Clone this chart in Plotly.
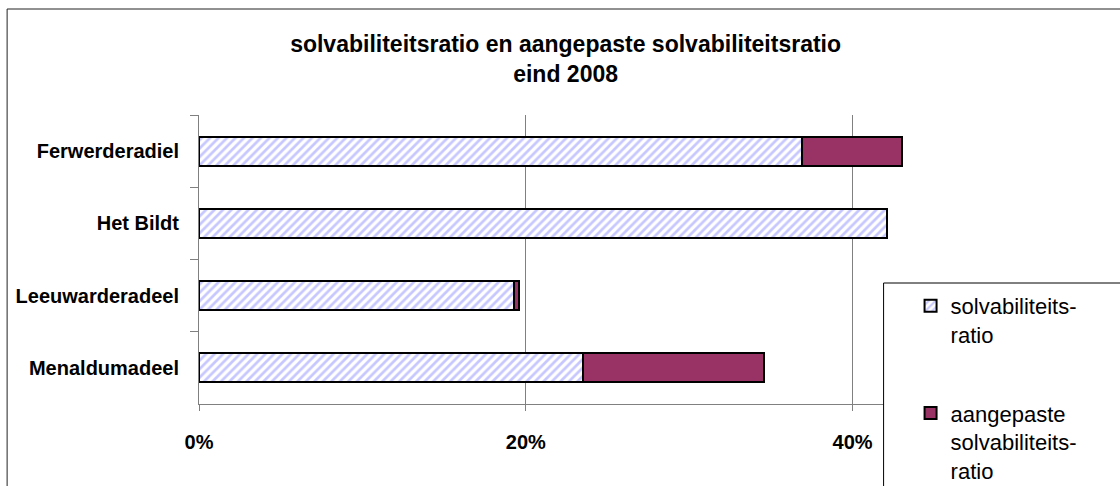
import plotly.graph_objects as go

categories = ["Ferwerderadiel", "Het Bildt", "Leeuwarderadeel", "Menaldumadeel"]
solvabiliteitsratio = [0.369, 0.421, 0.193, 0.235]
aangepaste_extra = [0.061, 0.0, 0.003, 0.111]
x_ticks = [0, 0.2, 0.4]
x_tick_labels = ["0%", "20%", "40%"]

FONT = "Liberation Sans, Arial, sans-serif"

W, H = 1120, 486
PL, PR_X, PT, PB = 199, 1016.5, 115, 404  # plot area pixels


def px(x):
    return (x - PL) / (PR_X - PL)


def py(y):
    return (PB - y) / (PB - PT)


fig = go.Figure()
fig.add_trace(go.Bar(
    y=categories, x=solvabiliteitsratio, orientation="h",
    name="solvabiliteits-<br>ratio", legendgroup="a",
    marker=dict(color="white",
                pattern=dict(shape="/", fgcolor="#8F8FFF", bgcolor="white",
                             size=6, solidity=0.45, fillmode="overlay"),
                line=dict(color="black", width=2)),
))
fig.add_trace(go.Bar(
    y=categories, x=aangepaste_extra, orientation="h",
    name="aangepaste<br>solvabiliteits-<br>ratio", legendgroup="b",
    marker=dict(color="#993366", line=dict(color="black", width=2)),
))

shapes = [
    # outer chart border
    dict(type="rect", xref="paper", yref="paper",
         x0=px(7), x1=px(1135), y0=py(9), y1=py(500),
         line=dict(color="#222222", width=1), fillcolor="rgba(0,0,0,0)", layer="above"),
    # legend box
    dict(type="rect", xref="paper", yref="paper",
         x0=px(884), x1=px(1135), y0=py(283), y1=py(500),
         line=dict(color="black", width=1), fillcolor="white", layer="above"),
]

fig.update_layout(
    width=W, height=H,
    barmode="stack", bargap=0.6,
    paper_bgcolor="white", plot_bgcolor="white",
    margin=dict(l=PL, r=W - PR_X, t=PT, b=H - PB, autoexpand=False),
    font=dict(family=FONT, color="black"),
    title=dict(text="<b>solvabiliteitsratio en aangepaste solvabiliteitsratio<br>eind 2008</b>",
               x=0.505, xanchor="center", y=1 - 52 / H, yanchor="middle",
               font=dict(size=23, family=FONT, color="black")),
    xaxis=dict(range=[0, 0.5], tickvals=x_ticks, ticktext=x_tick_labels,
               showgrid=True, gridcolor="#808080", gridwidth=1,
               zeroline=False, showline=True, linecolor="#808080", linewidth=1,
               ticks="outside", ticklen=6, tickcolor="#808080",
               ticklabelstandoff=14,
               tickfont=dict(size=20, family=FONT, color="black", weight="bold")),
    yaxis=dict(categoryorder="array", categoryarray=categories, autorange="reversed",
               tickson="boundaries", showgrid=False, zeroline=False,
               showline=True, linecolor="#808080", linewidth=1,
               ticks="outside", ticklen=8, tickcolor="#808080",
               ticklabelstandoff=15,
               tickfont=dict(size=20, family=FONT, color="black", weight="bold")),
    legend=dict(x=px(911), y=py(285), xanchor="left", yanchor="top",
                bgcolor="rgba(0,0,0,0)", borderwidth=0,
                font=dict(size=22, family=FONT, color="black"),
                valign="top", tracegroupgap=47, traceorder="grouped"),
    showlegend=True,
    shapes=shapes,
)

fig.write_html("out.html", config={"displayModeBar": False},
               post_script="document.body.style.margin='0';document.body.style.padding='0';")
